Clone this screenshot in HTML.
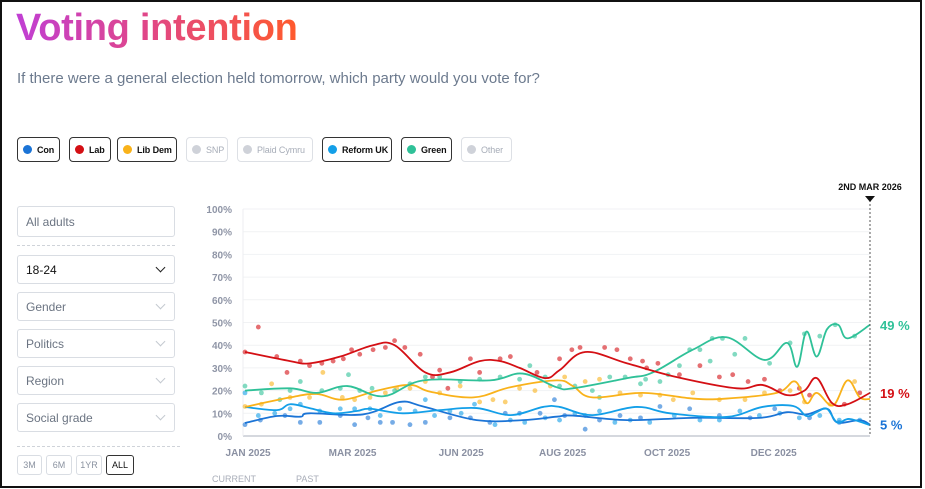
<!DOCTYPE html>
<html><head><meta charset="utf-8">
<style>
*{box-sizing:border-box;margin:0;padding:0}
body{width:925px;height:489px;background:#fff;font-family:"Liberation Sans",sans-serif;position:relative;overflow:hidden}
#frame{position:absolute;left:0;top:0;width:922px;height:488px;border:2px solid #111}
h1{position:absolute;left:16px;top:7px;font-size:38px;font-weight:bold;letter-spacing:-0.3px;white-space:nowrap;background:linear-gradient(90deg,#c03fd4,#e0468a 45%,#ff5a2c);-webkit-background-clip:text;background-clip:text;color:transparent}
.sub{position:absolute;left:17px;top:70px;font-size:15px;color:#6c7a8e}
.leg{position:absolute;top:137px;height:25px;border:1.5px solid #333;border-radius:4px;font-size:9px;font-weight:bold;color:#111;display:flex;align-items:center;padding-left:5px;gap:5px;white-space:nowrap;letter-spacing:-0.1px;overflow:hidden}
.leg.off{border:1px solid #dde0e5;color:#a7adb8;font-weight:normal}
.dot{width:9px;height:9px;border-radius:50%;display:inline-block;flex:none}
.sel{position:absolute;left:17px;width:158px;height:29px;border:1px solid #d9dde3;border-radius:3px;font-size:12px;color:#6b7482;padding-left:8px;display:flex;align-items:center}
.sel .chev{position:absolute;right:10px;top:8px;width:7px;height:7px;border-right:1px solid #c4c9d0;border-bottom:1px solid #c4c9d0;transform:rotate(45deg)}
.sep{position:absolute;left:17px;width:158px;border-top:1px dashed #cfd3d9}
.rb{position:absolute;top:455px;height:20px;border:1px solid #d9dde3;border-radius:3px;font-size:9px;color:#8a92a0;display:flex;align-items:center;justify-content:center}
svg{position:absolute;left:0;top:0}
</style></head><body>
<div id="frame"></div>
<h1>Voting intention</h1>
<div class="sub">If there were a general election held tomorrow, which party would you vote for?</div>

<div class="leg" style="left:17px;width:43px"><span class="dot" style="background:#1b74d6"></span>Con</div>
<div class="leg" style="left:69px;width:42px"><span class="dot" style="background:#d40f14"></span>Lab</div>
<div class="leg" style="left:117px;width:60px"><span class="dot" style="background:#f9b21a"></span>Lib Dem</div>
<div class="leg off" style="left:186px;width:42px"><span class="dot" style="background:#cfd2d9"></span>SNP</div>
<div class="leg off" style="left:237px;width:76px"><span class="dot" style="background:#cfd2d9"></span>Plaid Cymru</div>
<div class="leg" style="left:322px;width:70px"><span class="dot" style="background:#139fe8"></span>Reform UK</div>
<div class="leg" style="left:401px;width:51px"><span class="dot" style="background:#2fc198"></span>Green</div>
<div class="leg off" style="left:461px;width:51px"><span class="dot" style="background:#cfd2d9"></span>Other</div>

<div class="sel" style="top:206px;height:31px">All adults</div>
<div class="sep" style="top:245px"></div>
<div class="sel" style="top:255px;color:#111">18-24<span class="chev" style="border-color:#222"></span></div>
<div class="sel" style="top:292px">Gender<span class="chev"></span></div>
<div class="sel" style="top:329px">Politics<span class="chev"></span></div>
<div class="sel" style="top:366px">Region<span class="chev"></span></div>
<div class="sel" style="top:403px">Social grade<span class="chev"></span></div>
<div class="sep" style="top:446px;width:163px"></div>
<div class="rb" style="left:17px;width:25px">3M</div>
<div class="rb" style="left:46px;width:26px">6M</div>
<div class="rb" style="left:76px;width:26px">1YR</div>
<div class="rb" style="left:106px;width:28px;border:1.5px solid #333;color:#111">ALL</div>

<svg id="chart" width="925" height="489"></svg>
<script>
const weeksMax = 61;
const yTicks = [0,10,20,30,40,50,60,70,80,90,100];
const xTickWeeks = [0.3,10.5,21.1,31,41.2,51.6];
const xTickLabels = ["JAN 2025","MAR 2025","JUN 2025","AUG 2025","OCT 2025","DEC 2025"];

const labW = [0,4.4,6.3,9.3,12.5,14.6,17.6,20,22.9,24.9,26.8,29.3,30.7,33.2,37.3,42.1,48,50.5,52.9,54.6,55.8,57.3,58.8,61];
const labV = [37,33,32,35,40,40,28,28,33,33,30,25.5,29,37,32,26,21,22.5,18,20,25.5,14.5,14,19];
const grnW = [0,4.4,7,10,13.5,17.4,23.9,27.1,30.4,32,37.3,39.8,43.7,47,50.7,52.9,53.9,54.8,55.8,56.8,57.9,58.8,61];
const grnV = [20,21,19,22,17.5,24.5,24.5,27.5,21.5,21,25.5,28,38,43.5,33.5,41,30.5,46,35,47,49,43,49];
const ldW = [0,4.4,7,9.6,12.9,16.1,18.1,22.3,25.9,30.4,32,33.9,38.8,43.7,47,51.9,53.7,54.8,55.8,57.4,58.8,60,61];
const ldV = [12.8,17,18.5,16,20,22.5,19.5,17,21.5,24.5,22,17,19,16.5,16.5,19,24,14.5,19,13.5,24.5,17,16.3];
const conW = [0,3.1,5.4,6.3,11.5,15.1,17.4,22.6,27.1,30.4,32,37.3,43.7,50.2,52.9,54.8,56.8,57.8,60,61];
const conV = [5.7,8.8,8.5,10,9.5,15,13,7,7,8.5,9,7,8,8,10.5,9.5,12,6,7,5];
const refW = [0,3.1,4.4,6.3,8.6,10.9,12.2,15.4,19,22.6,25.9,29.1,30.7,33.9,38.2,41.5,47,50.5,53.5,54.8,55.8,56.8,57.8,59,61];
const refV = [12.8,11.4,14,12.3,10,11,12,10,11.4,12.3,9.2,12.8,12.8,9.2,12.8,10,8.4,12.8,13.2,8.8,10.5,12,6,7.5,4.8];

const labDotW = [0,1.3,3.1,4.1,5.4,6.3,7.5,8.6,9.6,10.4,11.2,12.5,13.7,14.6,15.6,17.1,18.3,19,19.8,22,22.9,24.9,25.9,28.5,30.7,31.9,32.7,35.1,36.3,37.6,38.8,39.2,40.3,42.4,44.4,46.3,47.6,49.1,50.7,52.2,54.1,55.1,58.5,60];
const labDotV = [37,48,35,28,33,31,32,33,34,38,36,38,39,42,39,36,26,29,21,34,28,34,35,28,34,38,39,39,38,34,33,30,32,27,31,26,27,24,25,20,21,18,14,19];
const grnDotW = [0,1.6,3.4,4.4,5.4,7.5,9.3,10.1,11.2,12.4,14.6,16.1,17.6,19,21,22.9,24.9,26.8,27.8,29.3,30.7,32.2,33.9,34.6,35.6,37.1,38.6,39.1,40.5,41.3,42.4,43.4,44.4,45.4,45.6,46.6,47.8,48.8,51.2,53.2,54.6,56.1,57.6,59.5];
const grnDotV = [22,19,16,20,24,20,21,27,20,21,20,23,26,26,24,25,26,25,31,26,22,22,20,17,26,26,23,25,24,27,31,38,38,33,43,43,36,43,32,41,45,44,49,44];
const ldDotW = [0,1.6,2.6,4.4,6.3,7.6,9.5,10.7,12.2,13.7,14.8,16.1,17.6,19,21,22.9,24.2,25.4,26.8,28.3,29.8,31.2,33.2,34.6,36.6,38.6,40.5,41.8,43.7,46.3,48.8,50.7,53.2,54.6,57.1,59.5];
const ldDotV = [13,14,23,17,17,28,17,16,17,19,21,21,24,19,22,15,16,15,21,20,22,26,24,25,19,18,18,16,19,16,16,19,20,15,14,24];
const refDotW = [0,1.3,2.9,4.4,5.4,7.3,9.3,10.7,12.2,13.2,15.1,16.6,17.6,18.5,20,21.1,22.4,24.4,25.9,27.3,29.3,30.7,32.2,33.2,34.6,36.1,37.6,39.5,41.9,44.4,46.3,48.3,50.2,52.2,54.1,56.1,58,60];
const refDotV = [19,9,10,12,14,11,12,12,12,9,12,11,16,9,11,10,14,5,7,6,8,7,10,9,11,6,7,6,9,7,7,11,9,10,8,9,7,7];
const conDotW = [0,1.5,3.9,5.4,7.3,9.3,10.7,12,13.2,14.4,16.1,17.6,20,22,23.9,25.4,26.8,28.8,30.2,31.2,33.2,34.6,36.6,38.6,40.5,43.4,46.3,49.3,51.7,55.1,58];
const conDotV = [5,7,9,6,6,9,5,8,6,6,5,6,8,8,6,10,10,10,16,9,3,7,9,8,13,12,9,8,12,8,6];

const X0=245, X1=870, Y0=436, Y1=209;
const xs = w => X0 + (X1-X0)*w/weeksMax;
const ys = v => Y0 - (Y0-Y1)*v/100;
const NS='http://www.w3.org/2000/svg';
const svg=document.getElementById('chart');
function mk(tag,attrs,parent){const e=document.createElementNS(NS,tag);for(const k in attrs)e.setAttribute(k,attrs[k]);(parent||svg).appendChild(e);return e;}

yTicks.forEach(t=>{
  const g=mk('line',{x1:X0-2,x2:X1,y1:ys(t),y2:ys(t),stroke:t===0?'#d5d8de':'#f1f2f4','stroke-width':t===0?2:1});
  
  
  const l=mk('text',{x:232,y:ys(t)+4,'text-anchor':'end','font-size':10,'font-weight':'bold',fill:'#8f95a6','font-family':'Liberation Sans, sans-serif'});
  l.textContent=t+'%';
  
  
});
const ax=mk('line',{x1:X0-2,x2:X0-2,y1:Y1,y2:Y0,stroke:'#eceef1','stroke-width':1});


xTickWeeks.forEach((w,i)=>{
  const l=mk('text',{x:xs(w),y:456,'text-anchor':'middle','font-size':10,'font-weight':'bold',fill:'#8a90a2','font-family':'Liberation Sans, sans-serif'});
  l.textContent=xTickLabels[i];
  
  
});
[['CURRENT',212],['PAST',296]].forEach(([t,x])=>{
  const l=mk('text',{x:x,y:482,'font-size':9,fill:'#a8adb8','font-family':'Liberation Sans, sans-serif'});
  l.textContent=t;
  
  
});

function drawDots(W,V,col,name){
  W.forEach((w,i)=>{
    const c=mk('circle',{cx:xs(w),cy:ys(V[i]),r:2.4,fill:col,opacity:0.6});
    
    
  });
}
function drawLine(W,V,col,name){
  const p=W.map((w,i)=>[xs(w),ys(V[i])]);
  let d='M'+p[0][0]+','+p[0][1];
  for(let i=0;i<p.length-1;i++){
    const a=p[Math.max(0,i-1)],b=p[i],c=p[i+1],e=p[Math.min(p.length-1,i+2)];
    const t=0.18;
    d+=' C'+(b[0]+(c[0]-a[0])*t)+','+(b[1]+(c[1]-a[1])*t)+' '+(c[0]-(e[0]-b[0])*t)+','+(c[1]-(e[1]-b[1])*t)+' '+c[0]+','+c[1];
  }
  const l=mk('path',{d:d,fill:'none',stroke:col,'stroke-width':1.8});
  
  
}
drawDots(conDotW,conDotV,'#1b74d6','con');
drawDots(refDotW,refDotV,'#139fe8','reform');
drawDots(ldDotW,ldDotV,'#f9b21a','lib-dem');
drawDots(grnDotW,grnDotV,'#2fc198','green');
drawDots(labDotW,labDotV,'#d40f14','lab');
drawLine(conW,conV,'#1b74d6','con');
drawLine(refW,refV,'#139fe8','reform');
drawLine(ldW,ldV,'#f9b21a','lib-dem');
drawLine(grnW,grnV,'#2fc198','green');
drawLine(labW,labV,'#d40f14','lab');

const dl=mk('line',{x1:X1,x2:X1,y1:200,y2:Y0,stroke:'#555','stroke-width':1,'stroke-dasharray':'2,2'});


const tri=mk('path',{d:'M'+(X1-5)+',196 L'+(X1+5)+',196 L'+X1+',202 Z',fill:'#111'});


const dt=mk('text',{x:X1,y:190,'text-anchor':'middle','font-size':9,'font-weight':'bold',fill:'#111','font-family':'Liberation Sans, sans-serif'});
dt.textContent='2ND MAR 2026';



[[grnV,'#2fc198','green'],[labV,'#d40f14','lab'],[conV,'#1b74d6','con']].forEach(([V,col,name])=>{
  const v=V[V.length-1];
  const t=mk('text',{x:880,y:ys(v)+5,'font-size':13,'font-weight':'bold',fill:col,'font-family':'Liberation Sans, sans-serif'});
  t.textContent=Math.round(v)+' %';
  
  
});
</script>
</body></html>
